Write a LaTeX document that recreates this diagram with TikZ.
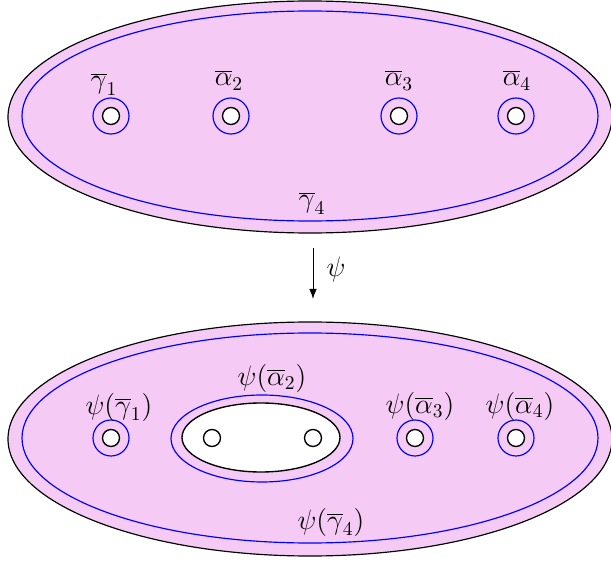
\documentclass[tikz,border=0pt]{standalone}
\usetikzlibrary{arrows.meta,positioning}
\definecolor{surf}{RGB}{245,202,245}

\begin{document}
\begin{tikzpicture}[
    x=0.018cm, y=0.018cm,
    font=\Large,
    outer/.style={draw=black, fill=surf, line width=0.6pt},
    curve/.style={draw=blue, line width=0.6pt},
    hole/.style={draw=black, fill=white, line width=0.7pt},
    lab/.style={inner sep=1pt},
    arrow/.style={-Latex, line width=0.5pt}
  ]
    \useasboundingbox (0,0) rectangle (611,562);

    % top surface
    \draw[outer] (310,445) ellipse [x radius=302, y radius=116];
    \draw[curve] (310,446) ellipse [x radius=288, y radius=105];
    \foreach \hx in {111,231,399,516} {
      \draw[curve] (\hx,446) circle [radius=18];
      \draw[hole] (\hx,446) circle [radius=8.5];
    }
    \node[lab] (g1) at (104,478) {$\overline{\gamma}_1$};
    \node[lab] (a2) at (229,482) {$\overline{\alpha}_2$};
    \node[lab] (a3) at (399,482) {$\overline{\alpha}_3$};
    \node[lab] (a4) at (517,482) {$\overline{\alpha}_4$};
    \node[lab] (g4) at (312,359) {$\overline{\gamma}_4$};

    % the map
    \coordinate (from) at (313,314);
    \coordinate (to) at (313,263);
    \draw[arrow] (from) -- (to);
    \node[lab] (psi) at (336,293) {$\psi$};

    % bottom surface
    \draw[outer] (310,123) ellipse [x radius=302, y radius=117];
    \draw[curve] (310,124) ellipse [x radius=288, y radius=105];
    \draw[curve] (262,123.5) ellipse [x radius=91, y radius=43.5];
    \draw[hole] (261,124.5) ellipse [x radius=79, y radius=34.5];
    \foreach \hx in {212,313} {
      \draw[hole] (\hx,124) circle [radius=8.5];
    }
    \foreach \hx in {111,415,516} {
      \draw[curve] (\hx,124) circle [radius=18];
      \draw[hole] (\hx,124) circle [radius=8.5];
    }
    \node[lab] (pg1) at (119,155) {$\psi(\overline{\gamma}_1)$};
    \node[lab] (pa2) at (272,184) {$\psi(\overline{\alpha}_2)$};
    \node[lab] (pa3) at (420,156) {$\psi(\overline{\alpha}_3)$};
    \node[lab] (pa4) at (520,156) {$\psi(\overline{\alpha}_4)$};
    \node[lab] (pg4) at (331,40) {$\psi(\overline{\gamma}_4)$};
\end{tikzpicture}
\end{document}
